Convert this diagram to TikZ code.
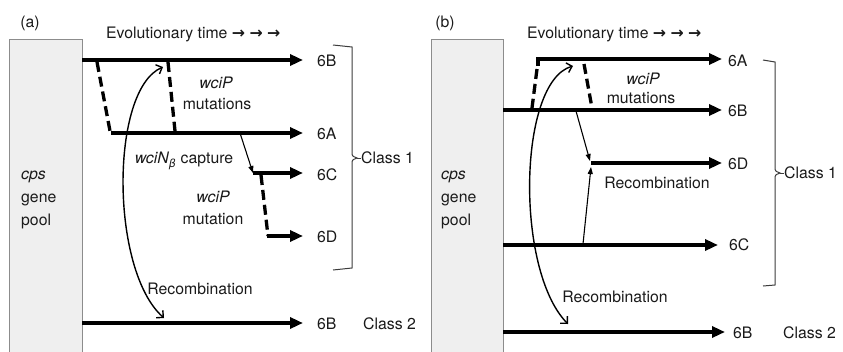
\documentclass[tikz,border=0pt]{standalone}
\usepackage{fontspec}
\setmainfont{TeX Gyre Heros}
\newfontfamily\dvs{DejaVu Sans}
\usetikzlibrary{arrows.meta}
\definecolor{ink}{HTML}{1A1A1A}
\definecolor{poolfill}{HTML}{EFEFEF}
\definecolor{poolline}{HTML}{8C8C8C}
\newcommand{\tarr}{{\dvs\bfseries →}}
\begin{document}
\begin{tikzpicture}[x=1pt,y=-1pt,
  font=\fontsize{15.8}{19}\selectfont, text=ink,
  mainarr/.style={line width=3.3pt, line join=miter, -{Triangle[length=13pt,width=11pt]}},
  mut/.style={line width=3.3pt, dash pattern=on 10pt off 5pt},
  thinarr/.style={line width=1.1pt, -{Triangle[length=7pt,width=5pt]}},
  recarc/.style={line width=1.4pt, {Straight Barb[length=5pt,width=10pt]}-{Straight Barb[length=5pt,width=10pt]}},
  lbl/.style={anchor=west, inner sep=0pt, text height=11.4pt, text depth=0pt},
  txt/.style={inner sep=0pt, text height=11.4pt, text depth=0pt},
  brc/.style={line width=1pt, draw=ink!85}]
\useasboundingbox (0,0) rectangle (843,351);

% ---------------- panel (a) ----------------
\fill[poolfill] (9,39) rectangle (82,352);
\draw[poolline, line width=0.9pt] (9,352) -- (9,39) -- (82,39) -- (82,352);
\node[txt] (labA) at (30,22) {(a)};
\node[lbl] (timeA) at (106,33) {Evolutionary time \tarr{} \tarr{} \tarr};
\node[lbl] (cpsA) at (21,174) {\itshape cps};
\node[lbl] (geneA) at (21,197) {gene};
\node[lbl] (poolA) at (21,220) {pool};

\coordinate (a6Bs) at (82,60);   \coordinate (a6Be) at (303,60);
\coordinate (a6As) at (111,133); \coordinate (a6Ae) at (303,133);
\coordinate (a6Cs) at (253,173); \coordinate (a6Ce) at (303,173);
\coordinate (a6Ds) at (267,236); \coordinate (a6De) at (303,236);
\coordinate (a2s) at (82,323);   \coordinate (a2e) at (303,323);

\draw[mainarr] (a6Bs) -- (a6Be);
\draw[mainarr] (a6As) -- (a6Ae);
\draw[mainarr] (a6Cs) -- (a6Ce);
\draw[mainarr] (a6Ds) -- (a6De);
\draw[mainarr] (a2s) -- (a2e);

\coordinate (ad1s) at (97,62);  \coordinate (ad1e) at (110,131);
\coordinate (ad2s) at (168,62); \coordinate (ad2e) at (175,131);
\coordinate (ad3s) at (261,175); \coordinate (ad3e) at (268,236);
\draw[mut] (ad1s) -- (ad1e);
\draw[mut] (ad2s) -- (ad2e);
\draw[mut] (ad3s) -- (ad3e);

\coordinate (acap) at (240,133);
\draw[thinarr] (acap) -- (a6Cs);

\coordinate (arecT) at (163,67); \coordinate (arecB) at (164,318);
\draw[recarc] (arecT) .. controls (110,90) and (110,270) .. (arecB);

\node[lbl] (l6Ba) at (317,61) {6B};
\node[lbl] (l6Aa) at (317,134) {6A};
\node[lbl] (l6Ca) at (317,175) {6C};
\node[lbl] (l6Da) at (317,237) {6D};
\node[lbl] (l6B2a) at (317,324) {6B};
\node[lbl] (cl2a) at (363,324) {Class 2};

\node[txt] (wciPa) at (216,83) {\itshape wciP};
\node[txt] (muta) at (217,104) {mutations};
\node[txt] (capa) at (184,158) {\itshape wciN\textsubscript{\dvs\itshape β}\upshape\ capture};
\node[txt] (wciPa2) at (213,197) {\itshape wciP};
\node[txt] (muta2) at (213,219) {mutation};
\node[txt] (reca) at (200,289) {Recombination};

\draw[brc] (333,45) -- (352,47) -- (352,152) .. controls (352,156) .. (357,158)
  .. controls (352,160) .. (352,164) -- (352,268) -- (333,270);
\draw[brc] (357,158) -- (361,158);
\node[lbl] (cl1a) at (361,158) {Class 1};

% ---------------- panel (b) ----------------
\fill[poolfill] (431,39) rectangle (503,352);
\draw[poolline, line width=0.9pt] (431,352) -- (431,39) -- (503,39) -- (503,352);
\node[txt] (labB) at (445,22) {(b)};
\node[lbl] (timeB) at (527,33) {Evolutionary time \tarr{} \tarr{} \tarr};
\node[lbl] (cpsB) at (441,174) {\itshape cps};
\node[lbl] (geneB) at (441,197) {gene};
\node[lbl] (poolB) at (441,220) {pool};

\coordinate (b6As) at (538,66);  \coordinate (b6Ae) at (722,59);
\coordinate (b6Bs) at (503,110); \coordinate (b6Be) at (722,110);
\coordinate (b6Ds) at (591,163); \coordinate (b6De) at (722,163);
\coordinate (b6Cs) at (503,245); \coordinate (b6Ce) at (718,245);
\coordinate (b2s) at (503,332);  \coordinate (b2e) at (725,332);

\draw[mainarr] (b6As) |- (b6Ae);
\draw[mainarr] (b6Bs) -- (b6Be);
\draw[mainarr] (b6Ds) -- (b6De);
\draw[mainarr] (b6Cs) -- (b6Ce);
\draw[mainarr] (b2s) -- (b2e);

\coordinate (bd1s) at (537,69);  \coordinate (bd1e) at (532,108);
\coordinate (bd2s) at (584,64);  \coordinate (bd2e) at (592,108);
\draw[mut] (bd1s) -- (bd1e);
\draw[mut] (bd2s) -- (bd2e);

\coordinate (bfromB) at (576,111); \coordinate (btoD1) at (590,161);
\coordinate (bfromC) at (583,244); \coordinate (btoD2) at (591,167);
\draw[thinarr] (bfromB) -- (btoD1);
\draw[thinarr] (bfromC) -- (btoD2);

\coordinate (brecT) at (573,66); \coordinate (brecB) at (568,324);
\draw[recarc] (brecT) .. controls (518,82) and (515,270) .. (brecB);

\node[lbl] (l6Ab) at (728,61) {6A};
\node[lbl] (l6Bb) at (728,111) {6B};
\node[lbl] (l6Db) at (728,164) {6D};
\node[lbl] (l6Cb) at (729,245) {6C};
\node[lbl] (l6B2b) at (733,333) {6B};
\node[lbl] (cl2b) at (783,333) {Class 2};

\node[txt] (wciPb) at (643,79) {\itshape wciP};
\node[txt] (mutb) at (641,98) {mutations};
\node[txt] (recb1) at (657,183) {Recombination};
\node[txt] (recb2) at (615,297) {Recombination};

\draw[brc] (763,60) -- (775,62) -- (775,167) .. controls (775,171) .. (780,173)
  .. controls (775,175) .. (775,179) -- (775,285) -- (763,286);
\draw[brc] (780,173) -- (784,173);
\node[lbl] (cl1b) at (784,173) {Class 1};
\end{tikzpicture}
\end{document}
